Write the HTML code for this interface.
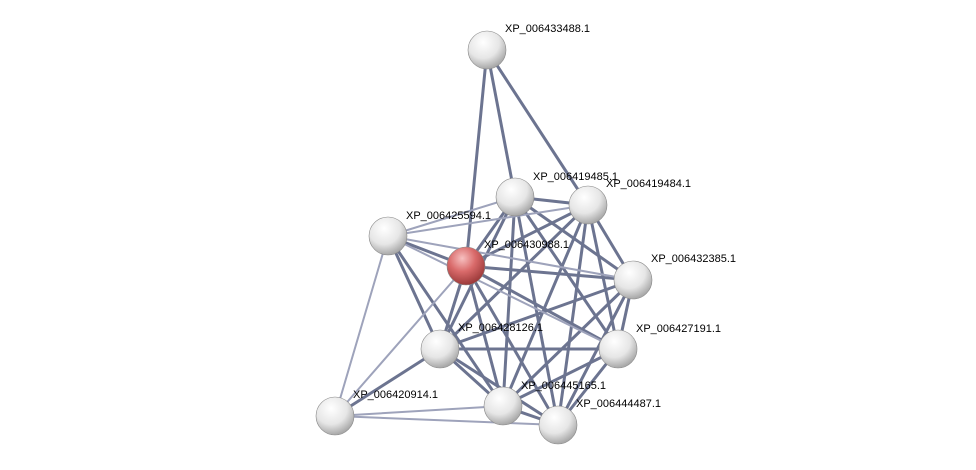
<!DOCTYPE html>
<html><head><meta charset="utf-8"><style>
html,body{margin:0;padding:0;background:#fff;}
svg{display:block;}
text{font-family:"Liberation Sans",sans-serif;font-size:11px;fill:#000;}
</style></head><body>
<svg width="976" height="470" viewBox="0 0 976 470" xmlns="http://www.w3.org/2000/svg">
<defs>
<radialGradient id="g" cx="40%" cy="30%" r="70%">
<stop offset="0" stop-color="#ffffff"/><stop offset="0.6" stop-color="#e6e6e6"/><stop offset="1" stop-color="#a8a8a8"/>
</radialGradient>
<radialGradient id="r" cx="40%" cy="30%" r="70%">
<stop offset="0" stop-color="#f7c0c0"/><stop offset="0.5" stop-color="#d96a6a"/><stop offset="1" stop-color="#9c3a3a"/>
</radialGradient>
</defs>
<g stroke-linecap="round">
<g stroke="#5d6585" stroke-width="3" opacity="0.9">
<line x1="487" y1="50" x2="515" y2="197"/>
<line x1="487" y1="50" x2="588" y2="205"/>
<line x1="487" y1="50" x2="466" y2="266"/>
<line x1="515" y1="197" x2="588" y2="205"/>
<line x1="515" y1="197" x2="466" y2="266"/>
<line x1="515" y1="197" x2="440" y2="349"/>
<line x1="515" y1="197" x2="618" y2="349"/>
<line x1="515" y1="197" x2="503" y2="406"/>
<line x1="515" y1="197" x2="558" y2="425"/>
<line x1="515" y1="197" x2="633" y2="280"/>
<line x1="588" y1="205" x2="466" y2="266"/>
<line x1="588" y1="205" x2="633" y2="280"/>
<line x1="588" y1="205" x2="440" y2="349"/>
<line x1="588" y1="205" x2="618" y2="349"/>
<line x1="588" y1="205" x2="503" y2="406"/>
<line x1="588" y1="205" x2="558" y2="425"/>
<line x1="388" y1="236" x2="466" y2="266"/>
<line x1="388" y1="236" x2="440" y2="349"/>
<line x1="388" y1="236" x2="503" y2="406"/>
<line x1="466" y1="266" x2="633" y2="280"/>
<line x1="466" y1="266" x2="440" y2="349"/>
<line x1="466" y1="266" x2="618" y2="349"/>
<line x1="466" y1="266" x2="503" y2="406"/>
<line x1="466" y1="266" x2="558" y2="425"/>
<line x1="633" y1="280" x2="440" y2="349"/>
<line x1="633" y1="280" x2="618" y2="349"/>
<line x1="633" y1="280" x2="503" y2="406"/>
<line x1="633" y1="280" x2="558" y2="425"/>
<line x1="440" y1="349" x2="618" y2="349"/>
<line x1="440" y1="349" x2="503" y2="406"/>
<line x1="440" y1="349" x2="558" y2="425"/>
<line x1="618" y1="349" x2="503" y2="406"/>
<line x1="618" y1="349" x2="558" y2="425"/>
<line x1="503" y1="406" x2="558" y2="425"/>
<line x1="335" y1="416" x2="440" y2="349"/>
</g>
<g stroke="#9ea3bb" stroke-width="2">
<line x1="388" y1="236" x2="515" y2="197"/>
<line x1="388" y1="236" x2="588" y2="205"/>
<line x1="388" y1="236" x2="633" y2="280"/>
<line x1="388" y1="236" x2="335" y2="416"/>
<line x1="466" y1="266" x2="335" y2="416"/>
<line x1="335" y1="416" x2="503" y2="406"/>
<line x1="335" y1="416" x2="558" y2="425"/>
<line x1="388" y1="236" x2="618" y2="349"/>
</g>
</g>
<g stroke="#888" stroke-width="0.6">
<circle cx="487" cy="50" r="19" fill="url(#g)"/>
<circle cx="515" cy="197" r="19" fill="url(#g)"/>
<circle cx="588" cy="205" r="19" fill="url(#g)"/>
<circle cx="388" cy="236" r="19" fill="url(#g)"/>
<circle cx="466" cy="266" r="19" fill="url(#r)"/>
<circle cx="633" cy="280" r="19" fill="url(#g)"/>
<circle cx="440" cy="349" r="19" fill="url(#g)"/>
<circle cx="618" cy="349" r="19" fill="url(#g)"/>
<circle cx="503" cy="406" r="19" fill="url(#g)"/>
<circle cx="335" cy="416" r="19" fill="url(#g)"/>
<circle cx="558" cy="425" r="19" fill="url(#g)"/>
</g>
<text x="505" y="32">XP_006433488.1</text>
<text x="533" y="180">XP_006419485.1</text>
<text x="606" y="187">XP_006419484.1</text>
<text x="406" y="219">XP_006425594.1</text>
<text x="484" y="248">XP_006430988.1</text>
<text x="651" y="262">XP_006432385.1</text>
<text x="458" y="331">XP_006428126.1</text>
<text x="636" y="332">XP_006427191.1</text>
<text x="521" y="389">XP_006445165.1</text>
<text x="353" y="398">XP_006420914.1</text>
<text x="576" y="407">XP_006444487.1</text>
</svg>
</body></html>
